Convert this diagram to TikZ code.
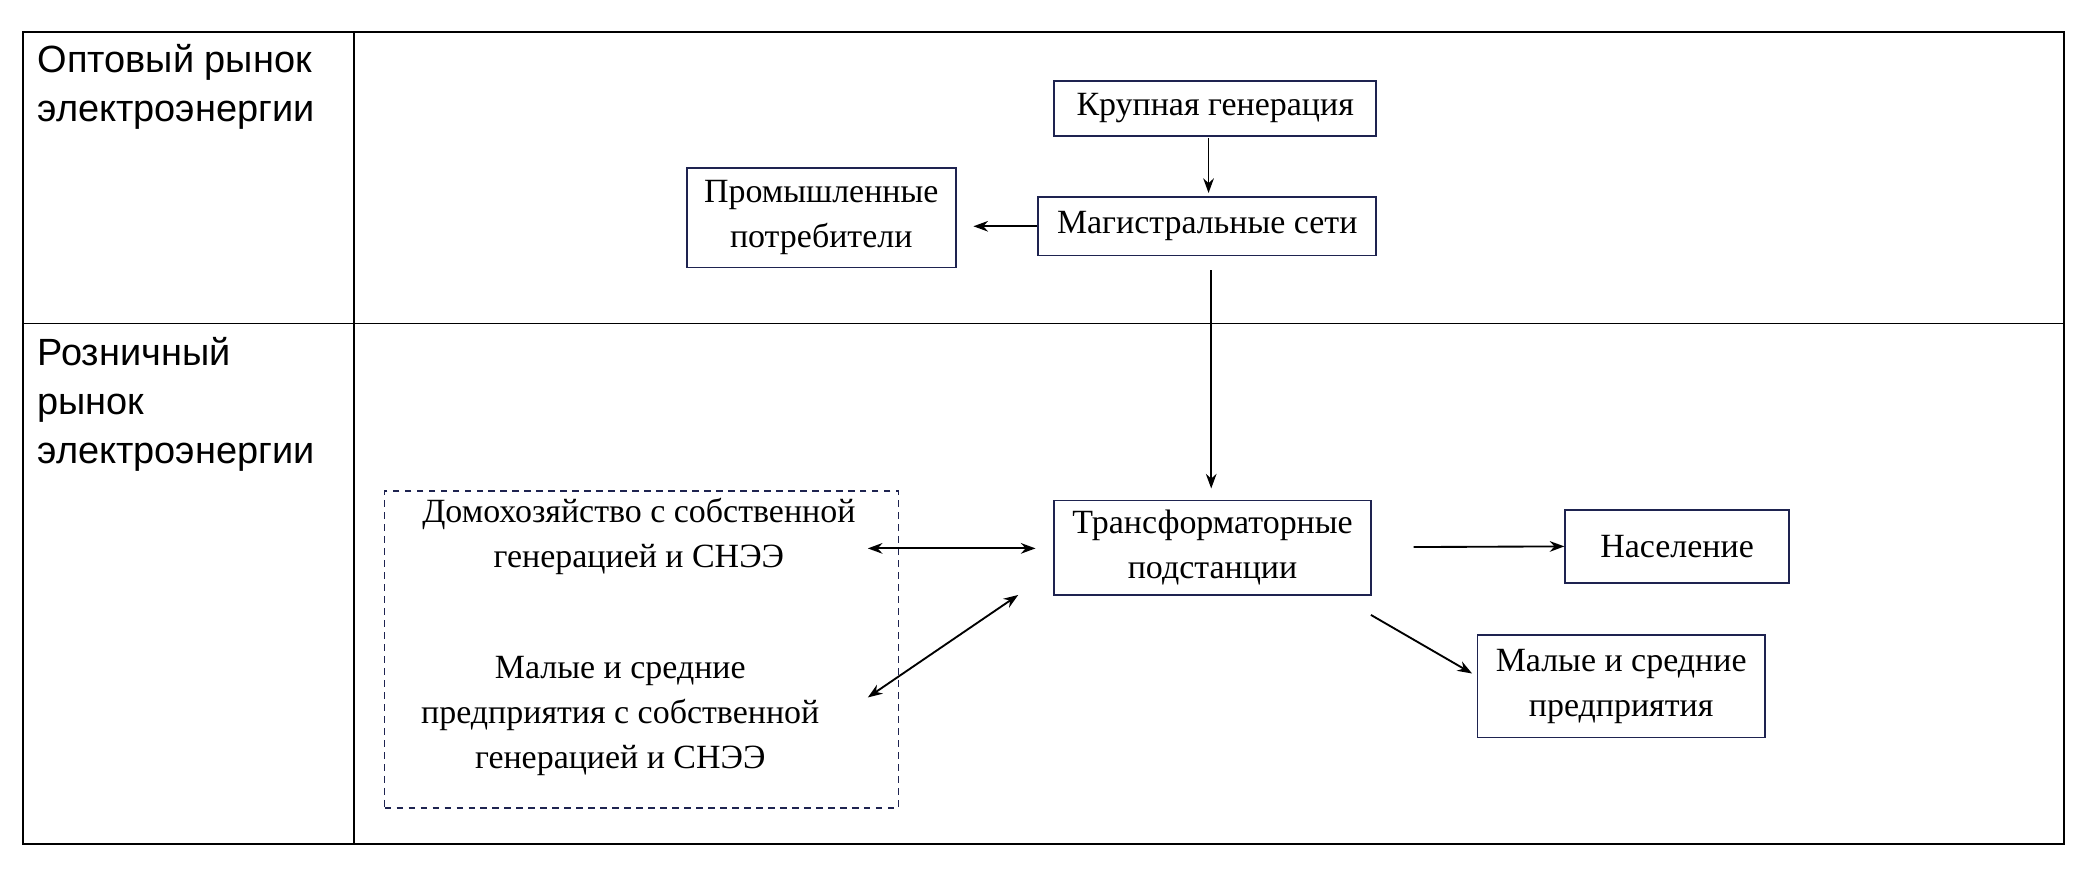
\documentclass[tikz,border=0pt]{standalone}
\usepackage{fontspec}
\setmainfont{Liberation Serif}
\setsansfont{Liberation Sans}
\usetikzlibrary{arrows.meta}
\definecolor{bx}{RGB}{30,35,80}
\begin{document}
\begin{tikzpicture}[x=1pt,y=-1pt,
  box/.style={draw=bx,line width=1.3pt,inner sep=0pt,align=center,font=\fontsize{25.5}{34}\selectfont},
  txt/.style={inner sep=0pt,align=center,font=\fontsize{25.5}{34}\selectfont},
  lab/.style={inner sep=0pt,align=left,anchor=north west,font=\sffamily\fontsize{28.5}{37}\selectfont},
  arr/.style={line width=1.4pt,-{Stealth[length=11pt,width=8pt]}},
  darr/.style={line width=1.4pt,{Stealth[length=11pt,width=8pt]}-{Stealth[length=11pt,width=8pt]}}]
\useasboundingbox (0,0) rectangle (1568,657);
\draw[line width=1.4pt] (17,24) rectangle (1551,634);
\draw[line width=1.4pt] (266,24) -- (266,634);
\draw[line width=1.4pt] (17,243) -- (1551,243);
\node[lab] (l1) at (28,33) {Оптовый рынок\\электроэнергии};
\node[lab] (l2) at (28,253) {Розничный\\рынок\\электроэнергии};
\node[box,minimum width=242,minimum height=41] (kg) at (913,81.5) {Крупная генерация};
\node[box,minimum width=254,minimum height=44] (ms) at (907,170) {Магистральные сети};
\node[box,minimum width=202,minimum height=75] (pp) at (617,163.5) {Промышленные\\потребители};
\node[box,minimum width=238,minimum height=71] (tp) at (911,411.5) {Трансформаторные\\подстанции};
\node[box,minimum width=168,minimum height=55] (nas) at (1260,410.5) {Население};
\node[box,minimum width=216,minimum height=77] (msp) at (1218,515.5) {Малые и средние\\предприятия};
\node[draw=bx,line width=1.2pt,dash pattern=on 5pt off 4pt,minimum width=386,minimum height=238,inner sep=0pt] (db) at (482,488) {};
\node[txt] (dom) at (480,403) {Домохозяйство с собственной\\генерацией и СНЭЭ};
\node[txt] (msg) at (466,538) {Малые и средние\\предприятия с собственной\\генерацией и СНЭЭ};
\coordinate (a1) at (908,104); \coordinate (a2) at (908,145);
\coordinate (b1) at (910,203); \coordinate (b2) at (910,367);
\draw[arr] (a1) -- (a2);
\draw[arr] (ms.west) -- ++(-48,0);
\draw[arr] (b1) -- (b2);
\draw[darr] (652,412) -- (778,412);
\draw[darr] (652,524) -- (765,447);
\draw[arr] (1062,411) -- (nas.west);
\draw[arr] (1030,462) -- (1106,506);
\end{tikzpicture}
\end{document}
